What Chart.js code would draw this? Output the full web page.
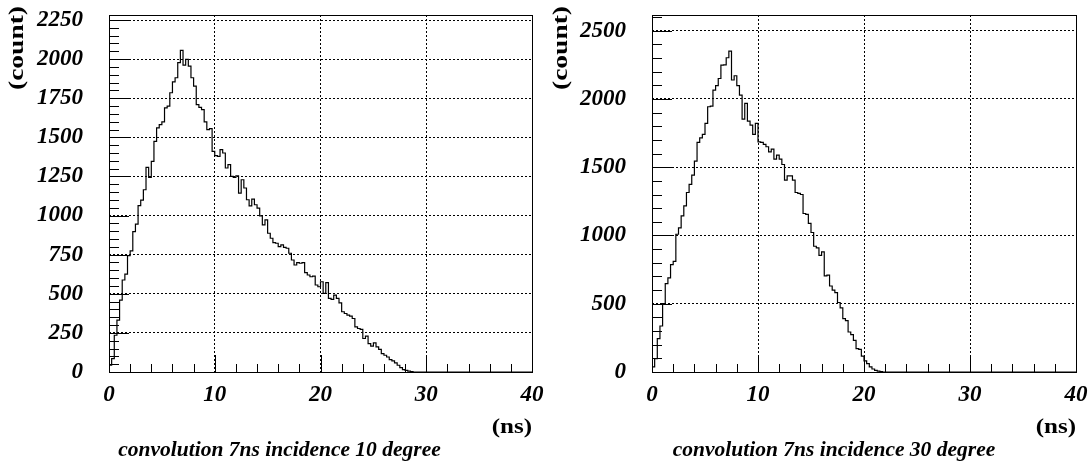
<!DOCTYPE html>
<html>
<head>
<meta charset="utf-8">
<script src="https://cdn.jsdelivr.net/npm/chart.js@4/dist/chart.umd.min.js"></script>
<style>
  html, body { margin: 0; padding: 0; background: #fff; }
  #wrap { position: relative; width: 1089px; height: 463px; }
  canvas { position: absolute; top: 0; }
</style>
</head>
<body>
<div id="wrap">
  <canvas id="chart10" width="544" height="463" style="left:0"></canvas>
  <canvas id="chart30" width="545" height="463" style="left:544px"></canvas>
</div>
<script>
/* ----------- DATA ----------------------------------------------
 * Histogrammes (bins de 0.25 ns, de 0 a 40 ns).
 */
const binWidth = 0.25;

const counts10 = [
  10, 43, 86, 235, 331, 460, 588, 626, 744, 774,
  897, 945, 1064, 1099, 1165, 1308, 1244, 1346, 1474, 1560,
  1581, 1599, 1688, 1700, 1785, 1855, 1881, 1977, 2056, 1962,
  1998, 1955, 1881, 1827, 1709, 1692, 1677, 1599, 1549, 1556,
  1410, 1383, 1378, 1421, 1400, 1304, 1325, 1250, 1244, 1254,
  1144, 1229, 1176, 1101, 1062, 1105, 1069, 1047, 998, 940,
  972, 887, 855, 827, 823, 801, 812, 797, 791, 759,
  716, 684, 699, 695, 699, 635, 620, 609, 613, 556,
  545, 577, 503, 571, 471, 464, 492, 471, 442, 385,
  374, 363, 357, 342, 288, 278, 272, 214, 229, 182,
  165, 186, 160, 144, 118, 107, 96, 79, 71, 58,
  43, 28, 15, 11, 6, 3, 0, 0, 0, 0,
  0, 0, 0, 0, 0, 0, 0, 0, 0, 0,
  0, 0, 0, 0, 0, 0, 0, 0, 0, 0,
  0, 0, 0, 0, 0, 0, 0, 0, 0, 0,
  0, 0, 0, 0, 0, 0, 0, 0, 0, 0
];

const counts30 = [
  5, 37, 98, 245, 337, 501, 648, 689, 787, 811,
  1009, 1056, 1144, 1217, 1315, 1374, 1442, 1545, 1682, 1715,
  1740, 1821, 1943, 1948, 2065, 2097, 2150, 2248, 2250, 2302,
  2351, 2139, 2170, 2097, 2028, 1853, 1968, 1838, 1809, 1740,
  1821, 1686, 1682, 1667, 1650, 1613, 1633, 1559, 1589, 1559,
  1520, 1405, 1437, 1437, 1405, 1315, 1308, 1300, 1161, 1154,
  1088, 1022, 921, 909, 855, 880, 704, 709, 630, 599,
  582, 509, 469, 391, 377, 293, 274, 232, 171, 166,
  116, 82, 61, 37, 22, 12, 6, 3, 0, 0,
  0, 0, 0, 0, 0, 0, 0, 0, 0, 0,
  0, 0, 0, 0, 0, 0, 0, 0, 0, 0,
  0, 0, 0, 0, 0, 0, 0, 0, 0, 0,
  0, 0, 0, 0, 0, 0, 0, 0, 0, 0,
  0, 0, 0, 0, 0, 0, 0, 0, 0, 0,
  0, 0, 0, 0, 0, 0, 0, 0, 0, 0,
  0, 0, 0, 0, 0, 0, 0, 0, 0, 0
];

const xTicks = [0, 10, 20, 30, 40];
const yTicks10 = [0, 250, 500, 750, 1000, 1250, 1500, 1750, 2000, 2250];
const yTicks30 = [0, 500, 1000, 1500, 2000, 2500];

const yLabel = '(count)';
const xLabel = '(ns)';
const title10 = 'convolution 7ns incidence 10 degree';
const title30 = 'convolution 7ns incidence 30 degree';
/* ----------- DATA ------------------------------------------- */

Chart.defaults.font.family = "'Liberation Serif', 'Times New Roman', serif";
Chart.defaults.color = '#000';

function histPoints(counts) {
  const pts = counts.map((c, i) => ({ x: i * binWidth, y: c }));
  pts.push({ x: counts.length * binWidth, y: counts[counts.length - 1] });
  return pts;
}

// texte eventuellement etire horizontalement (comme le rendu PostScript d'origine)
function drawText(ctx, text, x, y, font, align, sx, angle) {
  ctx.save();
  ctx.translate(x, y);
  if (angle) ctx.rotate(angle);
  ctx.scale(sx, 1);
  ctx.font = font;
  ctx.textAlign = align;
  ctx.textBaseline = 'middle';
  ctx.fillStyle = '#000';
  ctx.fillText(text, 0, 0);
  ctx.restore();
}

/**
 * ------------ CADRE FACON ROOT ----------------------------
 * cadre, graduations vers l'interieur, titres d'axes
 */
const rootFrame = {
  id: 'rootFrame',
  afterDatasetsDraw(chart, args, opts) {
    const ctx = chart.ctx, a = chart.chartArea;
    const xs = chart.scales.x, ys = chart.scales.y;
    const al = v => Math.round(v) + 0.5;
    ctx.save();
    ctx.strokeStyle = '#000';
    ctx.lineWidth = 1;
    ctx.beginPath();
    for (let v = xs.min; v <= xs.max; v += opts.xMinor) {
      const px = al(xs.getPixelForValue(v));
      const len = v % opts.xMajor === 0 ? 17 : 8;
      ctx.moveTo(px, a.bottom);
      ctx.lineTo(px, a.bottom - len);
    }
    for (let v = ys.min; v <= ys.max; v += opts.yMinor) {
      const py = al(ys.getPixelForValue(v));
      const len = v % opts.yMajor === 0 ? 20 : 10;
      ctx.moveTo(a.left, py);
      ctx.lineTo(a.left + len, py);
    }
    ctx.stroke();
    ctx.strokeRect(al(a.left), al(a.top), Math.round(a.right - a.left), Math.round(a.bottom - a.top));
    ctx.restore();
  },
  afterDraw(chart, args, opts) {
    const ctx = chart.ctx, a = chart.chartArea;
    drawText(ctx, yLabel, 17, 48, "bold 22px 'Liberation Serif'", 'center', 1.25, -Math.PI / 2);
    drawText(ctx, xLabel, a.right, 428, "bold 20px 'Liberation Serif'", 'right', 1.25, 0);
    ctx.save();
    ctx.font = "italic bold 21.5px 'Liberation Serif'";
    ctx.textAlign = 'center';
    ctx.textBaseline = 'alphabetic';
    ctx.fillStyle = '#000';
    ctx.fillText(opts.title, opts.titleX, 456);
    ctx.restore();
  }
};

function makeChart(id, counts, yMax, yTicks, yMinor, yMajor, title, titleX, padRight) {
  const tickFont = { size: 23, style: 'italic', weight: 'bold' };
  return new Chart(document.getElementById(id), {
    type: 'line',
    data: {
      datasets: [{
        data: histPoints(counts),
        stepped: 'after',
        borderColor: '#000',
        borderWidth: 1.2,
        pointRadius: 0,
        fill: false
      }]
    },
    options: {
      responsive: false,
      animation: false,
      devicePixelRatio: 1,
      layout: { padding: { top: 15, right: padRight, left: 0, bottom: 0 } },
      plugins: {
        legend: { display: false },
        tooltip: { enabled: false },
        rootFrame: { xMinor: 2, xMajor: 10, yMinor: yMinor, yMajor: yMajor, title: title, titleX: titleX }
      },
      scales: {
        x: {
          type: 'linear',
          min: 0,
          max: 40,
          afterBuildTicks: s => { s.ticks = xTicks.map(v => ({ value: v })); },
          ticks: { padding: 9, font: tickFont, color: '#000', maxRotation: 0, autoSkip: false,
                   callback: v => String(v) },
          grid: { color: '#000', lineWidth: 1, drawTicks: false },
          border: { display: false, dash: [2, 2] },
          afterFit: s => { s.height = 91; s.paddingLeft = 0; s.paddingRight = 0; }
        },
        y: {
          type: 'linear',
          min: 0,
          max: yMax,
          afterBuildTicks: s => { s.ticks = yTicks.map(v => ({ value: v })); },
          ticks: { padding: 26, font: tickFont, color: '#000', autoSkip: false,
                   callback: v => String(v) },
          grid: { color: '#000', lineWidth: 1, drawTicks: false },
          border: { display: false, dash: [2, 2] },
          afterFit: s => { s.width = 108 + (id === 'chart10' ? 1 : 0); s.paddingTop = 0; s.paddingBottom = 0; }
        }
      }
    },
    plugins: [rootFrame]
  });
}

makeChart('chart10', counts10, 2282, yTicks10, 50, 250, title10, 279.5, 12);
makeChart('chart30', counts30, 2615, yTicks30, 100, 500, title30, 290, 13);
</script>
</body>
</html>
